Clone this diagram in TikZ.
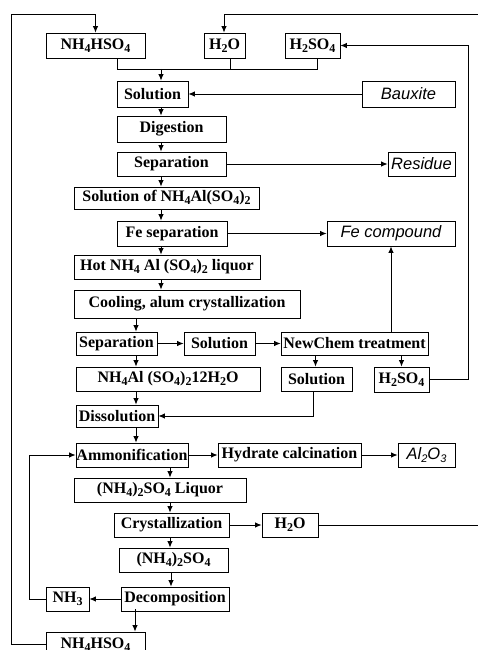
\documentclass[tikz,border=0pt]{standalone}
\usepackage{fontspec}
\setmainfont{Liberation Serif}
\newfontfamily\arialf{Liberation Sans}
\usetikzlibrary{arrows.meta}
\newcommand\sub[1]{\raisebox{-3pt}{\fontsize{12}{12}\selectfont #1}}
\newcommand\ssub[1]{\raisebox{-3pt}{\fontsize{11}{11}\selectfont #1}}
\begin{document}
\begin{tikzpicture}[x=1pt,y=-1pt,
 box/.style={draw, line width=0.8pt, inner sep=0pt, font=\fontsize{16}{18}\selectfont\bfseries},
 sbox/.style={draw, line width=0.8pt, inner sep=0pt, font=\fontsize{16.5}{18}\selectfont\arialf\itshape},
 arr/.style={line width=0.9pt, -{Latex[length=6.5pt,width=5.5pt]}},
 ln/.style={line width=0.9pt}]
\clip (0,0) rectangle (478,650);
\fill[white] (0,0) rectangle (478,650);
% column coordinates
\coordinate (cA) at (161,0);
\coordinate (cB) at (136,0);
\coordinate (cC) at (170,0);
\coordinate (mj) at (161,69);
\coordinate (eTop) at (478,14);
\coordinate (eMid) at (478,525);
% nodes
\node[box, minimum width=99pt, minimum height=25pt] (nhA) at (95.5,45.5) {NH\sub{4}HSO\sub{4}};
\node[box, minimum width=41pt, minimum height=25pt] (h2oA) at (224.5,45.5) {H\sub{2}O};
\node[box, minimum width=55pt, minimum height=25pt] (h2so4A) at (312.5,45.5) {H\sub{2}SO\sub{4}};
\node[box, minimum width=71pt, minimum height=26pt] (sol1) at (152.5,94) {Solution};
\node[sbox, minimum width=93pt, minimum height=26pt] (baux) at (408.5,94) {Bauxite};
\node[box, minimum width=109pt, minimum height=26pt] (dig) at (171.5,129) {Digestion};
\node[box, minimum width=109pt, minimum height=24pt] (sep1) at (171.5,164) {Separation};
\node[sbox, minimum width=67pt, minimum height=24pt] (res) at (421.5,164) {Residue};
\node[box, minimum width=185pt, minimum height=22pt] (solnh) at (166.5,198) {Solution of NH\sub{4}Al(SO\sub{4})\sub{2}};
\node[box, minimum width=110pt, minimum height=25pt] (fesep) at (172,233.5) {Fe separation};
\node[sbox, minimum width=128pt, minimum height=25pt] (fecomp) at (391,233.5) {Fe compound};
\node[box, minimum width=186pt, minimum height=24pt] (hot) at (167,267) {Hot NH\sub{4} Al (SO\sub{4})\sub{2} liquor};
\node[box, minimum width=226pt, minimum height=28pt] (cool) at (187,304) {Cooling, alum crystallization};
\node[box, minimum width=81pt, minimum height=23pt] (sep2) at (116.5,343.5) {Separation};
\node[box, minimum width=71pt, minimum height=23pt] (sol2) at (219.5,343.5) {Solution};
\node[box, minimum width=147pt, minimum height=23pt] (newchem) at (354.5,343.5) {NewChem treatment};
\node[box, minimum width=184pt, minimum height=24pt] (alum) at (168,379) {NH\sub{4}Al (SO\sub{4})\sub{2}12H\sub{2}O};
\node[box, minimum width=71pt, minimum height=24pt] (sol3) at (316.5,379) {Solution};
\node[box, minimum width=55pt, minimum height=25pt] (h2so4B) at (401.5,379.5) {H\sub{2}SO\sub{4}};
\node[box, minimum width=82pt, minimum height=22pt] (diss) at (117,416) {Dissolution};
\node[box, minimum width=112pt, minimum height=24pt] (ammon) at (132,455) {Ammonification};
\node[box, minimum width=143pt, minimum height=24pt] (hyd) at (289.5,455) {Hydrate calcination};
\node[sbox, minimum width=57pt, minimum height=24pt] (al2o3) at (426.5,455) {Al\ssub{2}O\ssub{3}};
\node[box, minimum width=172pt, minimum height=24pt] (liquor) at (160,490) {(NH\sub{4})\sub{2}SO\sub{4} Liquor};
\node[box, minimum width=115pt, minimum height=24pt] (cryst) at (171.5,525) {Crystallization};
\node[box, minimum width=56pt, minimum height=24pt] (h2oB) at (290,525) {H\sub{2}O};
\node[box, minimum width=109pt, minimum height=24pt] (nh42) at (173.5,560) {(NH\sub{4})\sub{2}SO\sub{4}};
\node[box, minimum width=108pt, minimum height=24pt] (decomp) at (175,599) {Decomposition};
\node[box, minimum width=43pt, minimum height=24pt] (nh3) at (67.5,599) {NH\sub{3}};
\node[box, minimum width=99pt, minimum height=25pt] (nhB) at (95.5,644.5) {NH\sub{4}HSO\sub{4}};
% top feeds
\draw[arr] (nhB.west) -| (11,14) -| (nhA.north);
\draw[arr] (eTop) -| ([xshift=-0.5pt]h2oA.north);
\draw[arr] (h2so4B.east) -- ++(39,0) |- (h2so4A.east);
\draw[ln] ([xshift=21.5pt]nhA.south) |- ([xshift=4.5pt]h2so4A.south |- mj) -- ([xshift=4.5pt]h2so4A.south);
\draw[ln] ([xshift=5.5pt]h2oA.south) -- ([xshift=5.5pt]h2oA.south |- mj);
\draw[arr] (mj) -- (sol1.north -| cA);
% main column
\draw[arr] (baux.west) -- (sol1.east);
\draw[arr] (sol1.south -| cA) -- (dig.north -| cA);
\draw[arr] (dig.south -| cA) -- (sep1.north -| cA);
\draw[arr] (sep1.east) -- (res.west);
\draw[arr] (sep1.south -| cA) -- (solnh.north -| cA);
\draw[arr] (solnh.south -| cA) -- (fesep.north -| cA);
\draw[arr] (fesep.east) -- (fecomp.west);
\draw[arr] (fesep.south -| cA) -- (hot.north -| cA);
\draw[arr] (hot.south -| cA) -- (cool.north -| cA);
\draw[arr] (cool.south -| cB) -- (sep2.north -| cB);
\draw[arr] (sep2.east) -- (sol2.west);
\draw[arr] (sol2.east) -- (newchem.west);
\draw[arr] (newchem.north -| fecomp) -- (fecomp.south);
\draw[arr] ([xshift=-1pt]newchem.south -| sol3) -- ([xshift=-1pt]sol3.north);
\draw[arr] (newchem.south -| h2so4B) -- (h2so4B.north);
\draw[arr] (sep2.south -| cB) -- (alum.north -| cB);
\draw[arr] (alum.south -| cB) -- (diss.north -| cB);
\draw[arr] ([xshift=-3.5pt]sol3.south) |- (diss.east);
\draw[arr] (diss.south -| cB) -- (ammon.north -| cB);
\draw[arr] (ammon.east) -- (hyd.west);
\draw[arr] (hyd.east) -- (al2o3.west);
\draw[arr] (ammon.south -| cC) -- (liquor.north -| cC);
\draw[arr] (liquor.south -| cC) -- (cryst.north -| cC);
\draw[arr] (cryst.east) -- (h2oB.west);
\draw[ln] (h2oB.east) -- (eMid);
\draw[arr] (cryst.south -| cC) -- (nh42.north -| cC);
\draw[arr] ([xshift=1pt]nh42.south -| cC) -- ([xshift=1pt]decomp.north -| cC);
\draw[arr] (decomp.west) -- (nh3.east);
\draw[arr] (nh3.west) -- ++(-16,0) |- (ammon.west);
\draw[arr] ([yshift=2pt]decomp.south -| 135,0) -- (nhB.north -| 135,0);
\end{tikzpicture}
\end{document}
